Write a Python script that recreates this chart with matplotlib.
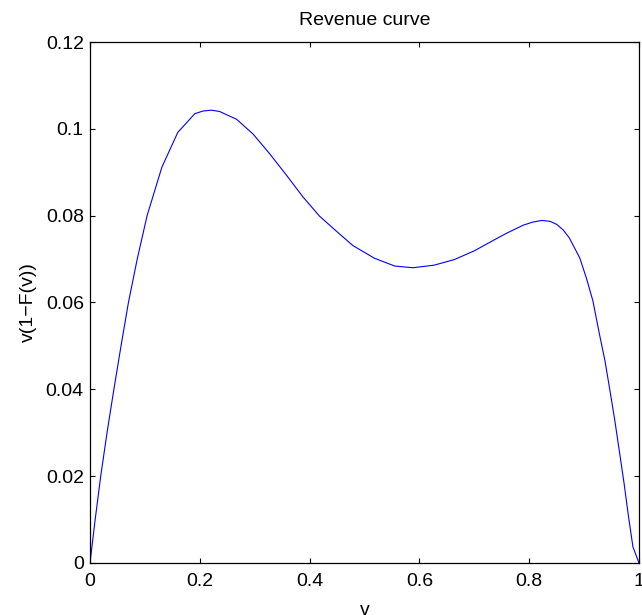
import matplotlib
matplotlib.use("Agg")
import matplotlib.pyplot as plt

# values
v = [0.000, 0.0094, 0.0195, 0.0310, 0.0435, 0.0565, 0.0700, 0.086, 0.104, 0.131,
     0.160, 0.191, 0.206, 0.221, 0.236, 0.267, 0.297, 0.327, 0.358, 0.388,
     0.418, 0.449, 0.479, 0.518, 0.555, 0.588, 0.627, 0.664, 0.700, 0.736,
     0.758, 0.789, 0.806, 0.823, 0.838, 0.850, 0.862, 0.873, 0.892, 0.904,
     0.916, 0.928, 0.938, 0.947, 0.956, 0.965, 0.973, 0.981, 0.989, 1.000]
revenue = [0.0000, 0.0100, 0.0200, 0.0300, 0.0400, 0.0500, 0.0600, 0.0700, 0.0800, 0.0912,
           0.0992, 0.1035, 0.1041, 0.1043, 0.1040, 0.1022, 0.0988, 0.0943, 0.0893, 0.0843,
           0.0799, 0.0764, 0.0731, 0.0702, 0.0684, 0.0680, 0.0686, 0.0699, 0.0719, 0.0744,
           0.0759, 0.0778, 0.0785, 0.0789, 0.0787, 0.0780, 0.0767, 0.0749, 0.0703, 0.0657,
           0.0604, 0.0527, 0.0466, 0.0398, 0.0328, 0.0251, 0.0182, 0.0106, 0.0037, 0.0000]
x_ticks = [0, 0.2, 0.4, 0.6, 0.8, 1]
y_ticks = [0, 0.02, 0.04, 0.06, 0.08, 0.1, 0.12]

plt.rcParams['font.family'] = ['Liberation Sans', 'DejaVu Sans']

fig = plt.figure(figsize=(6.42, 6.15), dpi=100)
ax = fig.add_axes([0.1402, 0.0846, 0.8551, 0.8471])

ax.plot(v, revenue, color='#0000ff', linewidth=0.8)

ax.set_xlim(0, 1)
ax.set_ylim(0, 0.12)
ax.set_xticks(x_ticks)
ax.set_yticks(y_ticks)
ax.set_xticklabels(['%g' % t for t in x_ticks])
ax.set_yticklabels(['%g' % t for t in y_ticks])
ax.tick_params(direction='in', top=True, right=True, length=3.5, width=0.8,
               labelsize=14)
ax.tick_params(axis='x', pad=7)
ax.tick_params(axis='y', pad=4.5)
for s in ax.spines.values():
    s.set_linewidth(0.9)

ax.set_title('Revenue curve', fontsize=14, pad=12)
ax.set_xlabel('v', fontsize=14, labelpad=9)
ax.set_ylabel('v(1\u2212F(v))', fontsize=14, labelpad=6)

fig.savefig('out.png', dpi=100)
